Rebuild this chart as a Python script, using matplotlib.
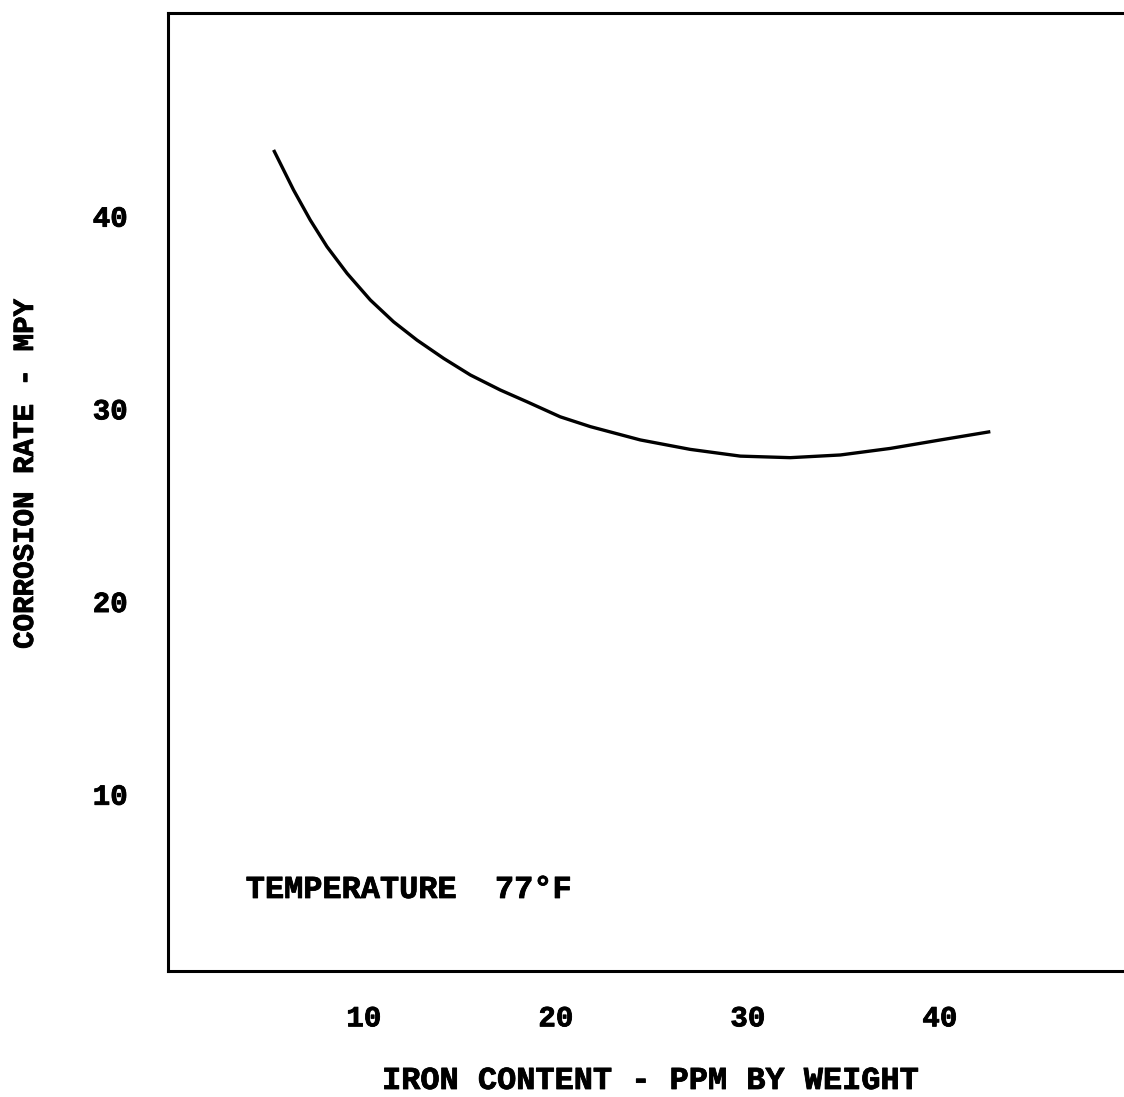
#!/usr/bin/env python3
"""Corrosion rate vs iron content at 77F (scanned patent figure redraw)."""
import matplotlib
matplotlib.use("Agg")
import matplotlib.pyplot as plt
import matplotlib.patheffects as pe

# ---- data ----------------------------------------------------------------
iron_ppm = [5.30, 6.34, 7.21, 8.08, 9.13, 10.34, 11.55, 12.77, 14.16, 15.55,
            17.11, 18.5, 20.23, 21.8, 24.4, 27.0, 29.61, 32.21, 34.82, 37.42,
            40.03, 42.63]
corrosion_mpy = [43.41, 41.33, 39.77, 38.39, 37.0, 35.62, 34.49, 33.54, 32.59,
                 31.73, 30.95, 30.34, 29.56, 29.05, 28.36, 27.87, 27.52, 27.44,
                 27.58, 27.92, 28.36, 28.79]
x_ticks = [10, 20, 30, 40]
y_ticks = [10, 20, 30, 40]

FONT = "Liberation Mono"
heavy = [pe.withStroke(linewidth=0.6, foreground="black")]

fig = plt.figure(figsize=(11.24, 10.97), dpi=100)
ax = fig.add_axes([168 / 1124, 126 / 1097, 0.8575, 0.873])

ax.plot(iron_ppm, corrosion_mpy, color="black", lw=2.4,
        solid_capstyle="butt", solid_joinstyle="round")

ax.set_xlim(-0.2, 50)
ax.set_ylim(0.8, 50.5)
ax.set_xticks(x_ticks)
ax.set_yticks(y_ticks)
ax.set_xticklabels([str(v) for v in x_ticks], fontfamily=FONT,
                   fontweight="bold", fontsize=21)
ax.set_yticklabels([str(v) for v in y_ticks], fontfamily=FONT,
                   fontweight="bold", fontsize=21)
ax.tick_params(axis="x", length=0, pad=24)
ax.tick_params(axis="y", length=0, pad=29)
for lab in ax.get_xticklabels() + ax.get_yticklabels():
    lab.set_path_effects(heavy)

for side in ["left", "top", "bottom"]:
    ax.spines[side].set_linewidth(2.2)
    ax.spines[side].set_color("black")
ax.spines["right"].set_visible(False)

ax.set_xlabel("IRON CONTENT - PPM BY WEIGHT", fontfamily=FONT,
              fontweight="bold", fontsize=23, va="baseline",
              path_effects=heavy)
ax.xaxis.set_label_coords(0.5017, -0.1232)
ax.set_ylabel("CORROSION RATE - MPY", fontfamily=FONT, fontweight="bold",
              fontsize=21, va="center", path_effects=heavy)
ax.yaxis.set_label_coords(-0.1484, 0.519)

ax.text(3.85, 4.59, "TEMPERATURE  77\u00b0F", fontfamily=FONT,
        fontweight="bold", fontsize=23, ha="left", va="baseline",
        path_effects=heavy)

fig.savefig("out.png", dpi=100, facecolor="white")
